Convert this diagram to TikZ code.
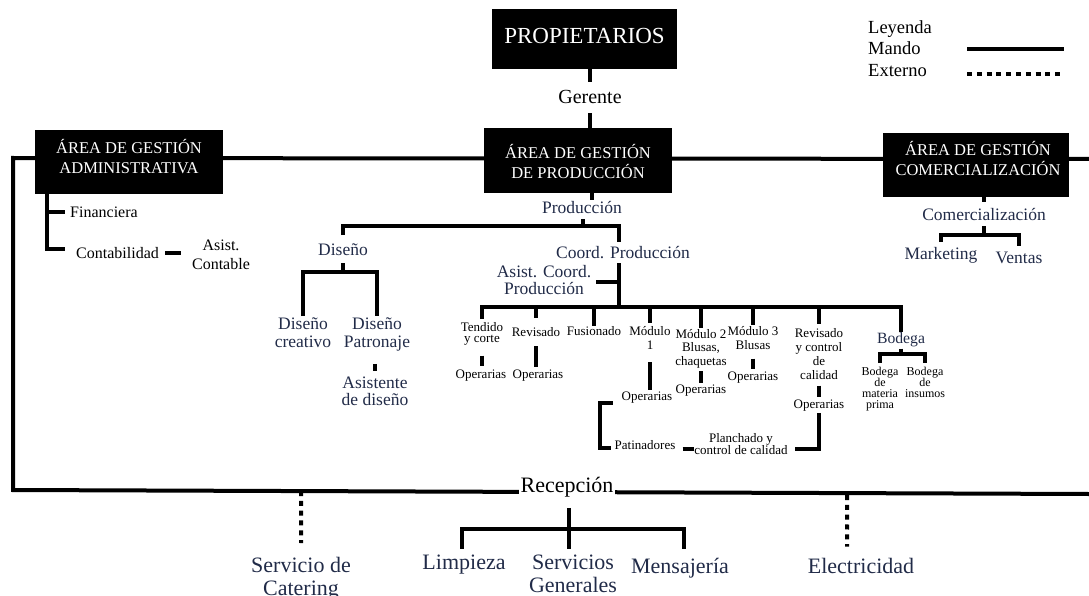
\documentclass[tikz,border=0pt]{standalone}
\usepackage{fontspec}
\setmainfont{Liberation Serif}
\usetikzlibrary{calc}
\definecolor{navy}{RGB}{33,43,72}
\newcommand\fsz[2]{\fontsize{#1}{#2}\selectfont}
\begin{document}
\begin{tikzpicture}[x=1pt,y=-1pt,
  ln/.style={line width=4pt, line join=miter},
  dotl/.style={line width=4pt, dash pattern=on 5pt off 4.8pt},
  blk/.style={fill=black, draw=none, inner sep=0pt},
  btxt/.style={text=white, align=center, inner sep=0pt, font=\fsz{16.5}{20}, anchor=north},
  tx/.style={inner sep=0pt, anchor=base},
  ml/.style={inner sep=0pt, align=center, anchor=north},
  nv/.style={text=navy},
  fA/.style={font=\fsz{17.5}{18}},
  fS/.style={font=\fsz{13}{14}},
  fB/.style={font=\fsz{22}{23}},
  fL/.style={font=\fsz{18.5}{20}}
]
\useasboundingbox (0,0) rectangle (1089,596);
% main frame line
\coordinate (tl) at (1089,159);
\coordinate (c1) at (13,158);
\coordinate (bl) at (13,490);
\coordinate (br) at (1089,494);
\draw[ln] (tl) -- (c1) -- (bl) -- (br);

% boxes
\node[blk, minimum width=185pt, minimum height=60pt, text=white, font=\fsz{23}{26}, text depth=6pt] (prop) at (584.5,39) {PROPIETARIOS};
\node[blk, minimum width=188pt, minimum height=64pt] (adm) at (129,162) {};
\node[btxt] (admt) at (129,139) {ÁREA DE GESTIÓN\\ADMINISTRATIVA};
\node[blk, minimum width=188pt, minimum height=65pt] (prod) at (578,160.5) {};
\node[btxt] (prodt) at (578,144) {ÁREA DE GESTIÓN\\DE PRODUCCIÓN};
\node[blk, minimum width=186pt, minimum height=64pt] (com) at (976,165) {};
\node[btxt] (comt) at (978,141) {ÁREA DE GESTIÓN\\COMERCIALIZACIÓN};

% Gerente
\node[tx, font=\fsz{20}{22}] (ger) at (590,104) {Gerente};
\draw[ln, shorten >=9pt] (prop.south -| ger.north) -- (ger.north);
\draw[ln, shorten <=9pt] (ger.south) -- (ger.south |- prod.north);

% legend
\node[tx, fL, anchor=base west] (ley) at (868,34) {Leyenda};
\node[tx, fL, anchor=base west] (man) at (868,55) {Mando};
\node[tx, fL, anchor=base west] (ext) at (868,77) {Externo};
\coordinate (lm1) at (967,49);
\coordinate (lm2) at (1064,49);
\coordinate (le1) at (967,74);
\coordinate (le2) at (1064,74);
\draw[ln] (lm1) -- (lm2);
\draw[dotl] (le1) -- (le2);

% administrative subtree
\node[tx, anchor=base west, font=\fsz{16}{18}] (fin) at (70,217) {Financiera};
\node[tx, anchor=base west, font=\fsz{16}{18}] (cont) at (76,258) {Contabilidad};
\node[ml, font=\fsz{16}{19}] (asc) at (221,240) {Asist.\\Contable};
\coordinate (aj) at (47,249);
\draw[ln, shorten >=11pt] (adm.south -| aj) -- (aj) -- (aj -| cont.west);
\draw[ln, shorten >=5pt] (aj |- fin.west) -- (fin.west);
\draw[ln, shorten <=6pt, shorten >=11pt] (cont.east) -- (cont.east -| asc.west);

% production subtree
\node[tx, nv, fA] (pro) at (582,213) {Producción};
\path ([xshift=14pt]prod.south) coordinate (pb);
\draw[ln, shorten >=1pt] (pb) -- (pb |- pro.north);
\coordinate (pj) at (583,226);
\coordinate (dj) at (343,226);
\coordinate (cj) at (619,226);
\draw[ln, shorten <=6pt] (pro.south -| pj) -- (pj);
\node[tx, nv, fA] (dis) at (343,255) {Diseño};
\node[tx, nv, fA] (cop) at (623,258) {Coord. Producción};
\draw[ln, shorten <=8pt, shorten >=4pt] (dis.north) -- (dj) -- (cj) -- (cj |- cop.north);
\node[ml, nv, font=\fsz{17.5}{17}] (acp) at (544,265) {Asist. Coord.\\Producción};
\coordinate (aj2) at (619,282);
\draw[ln, shorten >=4.5pt] (aj2) -- (aj2 -| acp.east);

% production units
\node[ml, font=\fsz{13}{11.5}] (ten) at (482,322) {Tendido\\y corte};
\node[tx, fS] (rev) at (536,336) {Revisado};
\node[tx, fS] (fus) at (594,335.5) {Fusionado};
\node[ml, font=\fsz{13}{14}] (mo1) at (650,326) {Módulo\\1};
\node[ml, font=\fsz{13}{13.5}] (mo2) at (701,329) {Módulo 2\\Blusas,\\chaquetas};
\node[ml, font=\fsz{13}{14.5}] (mo3) at (753,326) {Módulo 3\\Blusas};
\node[ml, font=\fsz{13}{14}] (rcc) at (819,328) {Revisado\\y control\\de\\calidad};
\node[tx, nv, font=\fsz{15.7}{17}] (bod) at (901,343) {Bodega};
\coordinate (hz) at (0,307);
\draw[ln, shorten <=3pt] (ten.north) -- (ten.north |- hz) -- (bod.north |- hz) -- (bod.north);
\draw[ln, shorten <=5pt] (cop.south -| cj) -- (cj |- hz);
\draw[ln, shorten >=9pt] (rev.north |- hz) -- (rev.north);
\draw[ln] (fus.north |- hz) -- (fus.north);
\draw[ln, shorten >=3pt] (mo1.north |- hz) -- (mo1.north);
\draw[ln, shorten >=1pt] (mo2.north |- hz) -- (mo2.north);
\draw[ln, shorten >=1pt] (mo3.north |- hz) -- (mo3.north);
\draw[ln, shorten >=4pt] (rcc.north |- hz) -- (rcc.north);

% operarias
\node[tx, fS] (op1) at (481,378) {Operarias};
\node[tx, fS] (op2) at (538,378) {Operarias};
\node[tx, fS] (op3) at (647,400) {Operarias};
\node[tx, fS] (op4) at (701,393) {Operarias};
\node[tx, fS] (op5) at (753,380) {Operarias};
\node[tx, fS] (op6) at (819,408) {Operarias};
\draw[ln, shorten <=10pt, shorten >=3pt] (ten.south) -- (ten.south |- op1.north);
\draw[ln, shorten <=10pt, shorten >=2pt] (rev.south) -- (rev.south |- op2.north);
\draw[ln, shorten <=13pt, shorten >=1pt] (mo1.south) -- (mo1.south |- op3.north);
\draw[ln, shorten <=3pt, shorten >=1pt] (mo2.south) -- (mo2.south |- op4.north);
\draw[ln, shorten <=8.5pt, shorten >=2pt] (mo3.south) -- (mo3.south |- op5.north);
\draw[ln, shorten <=6pt, shorten >=2pt] (rcc.south) -- (rcc.south |- op6.north);

\node[tx, fS] (pat) at (645,449) {Patinadores};
\node[ml, font=\fsz{13}{12}] (pla) at (741,433) {Planchado y\\control de calidad};
\coordinate (rc) at (819,449);
\draw[ln, shorten <=2pt, shorten >=7pt] (op6.south) -- (rc) -- (rc -| pla.east);
\draw[ln, shorten <=7pt] (pat.east |- rc) -- (pla.west |- rc);
\coordinate (b1) at (600,403);
\coordinate (b2) at (600,448);
\draw[ln, shorten <=9pt, shorten >=3pt] (op3.west |- b1) -- (b1) -- (b2) -- (b2 -| pat.west);

% bodega
\node[ml, font=\fsz{12}{11}] (bmp) at (880,367) {Bodega\\de\\materia\\prima};
\node[ml, font=\fsz{12}{11}] (bin) at (925,367) {Bodega\\de\\insumos};
\coordinate (bj) at (901,354);
\draw[ln, shorten <=2pt] (bod.south) -- (bj);
\draw[ln, shorten <=4pt, shorten >=4pt] (bmp.north) -- (bmp.north |- bj) -- (bin.north |- bj) -- (bin.north);

% diseño
\node[ml, nv, fA] (dcr) at (303,318) {Diseño\\creativo};
\node[ml, nv, fA] (dpa) at (377,318) {Diseño\\Patronaje};
\node[ml, nv, font=\fsz{17.5}{17}] (asd) at (375,377) {Asistente\\de diseño};
\coordinate (dsj) at (343,272);
\draw[ln, shorten <=8pt] (dis.south) -- (dsj);
\draw[ln, shorten <=2pt, shorten >=2pt] (dcr.north) -- (dcr.north |- dsj) -- (dpa.north |- dsj) -- (dpa.north);
\draw[ln, shorten <=12pt, shorten >=6pt] (asd.north |- dpa.south) -- (asd.north);

% commercial
\node[tx, nv, fA] (cmz) at (984,221) {Comercialización};
\draw[ln, shorten >=7pt] (com.south -| cmz.north) -- (cmz.north);
\coordinate (mj) at (984,235);
\draw[ln, shorten <=5pt] (cmz.south) -- (mj);
\node[tx, nv, fA] (mkt) at (941,259) {Marketing};
\node[tx, nv, fA] (ven) at (1019,263) {Ventas};
\draw[ln, shorten <=5pt, shorten >=5pt] (mkt.north) -- (mkt.north |- mj) -- (ven.north |- mj) -- (ven.north);

% bottom
\node[tx, fB, fill=white, inner sep=2pt] (rec) at (567,492) {Recepción};
\node[ml, nv, fB] (cat) at (301,557) {Servicio de\\Catering};
\node[tx, nv, fB] (lim) at (464,569.5) {Limpieza};
\node[ml, nv, fB] (sg) at (573,555) {Servicios\\Generales};
\node[tx, nv, fB] (men) at (680,573) {Mensajería};
\node[tx, nv, fB] (ele) at (861,573) {Electricidad};
\coordinate (rj) at (569,529);
\coordinate (rl) at (462,529);
\coordinate (rr) at (684,529);
\draw[ln, shorten <=9pt, shorten >=6pt] (rec.south -| rj) -- (rj |- sg.north);
\draw[ln, shorten <=6pt, shorten >=9pt] (rl |- lim.north) -- (rl) -- (rr) -- (rr |- men.north);
\draw[dotl, shorten >=14pt] ($(bl)!(cat.north)!(br)$) -- (cat.north);
\path ([xshift=-14pt]ele.north) coordinate (elen);
\draw[dotl, shorten <=2pt, shorten >=11pt] ($(bl)!(elen)!(br)$) -- (elen);
\end{tikzpicture}
\end{document}
